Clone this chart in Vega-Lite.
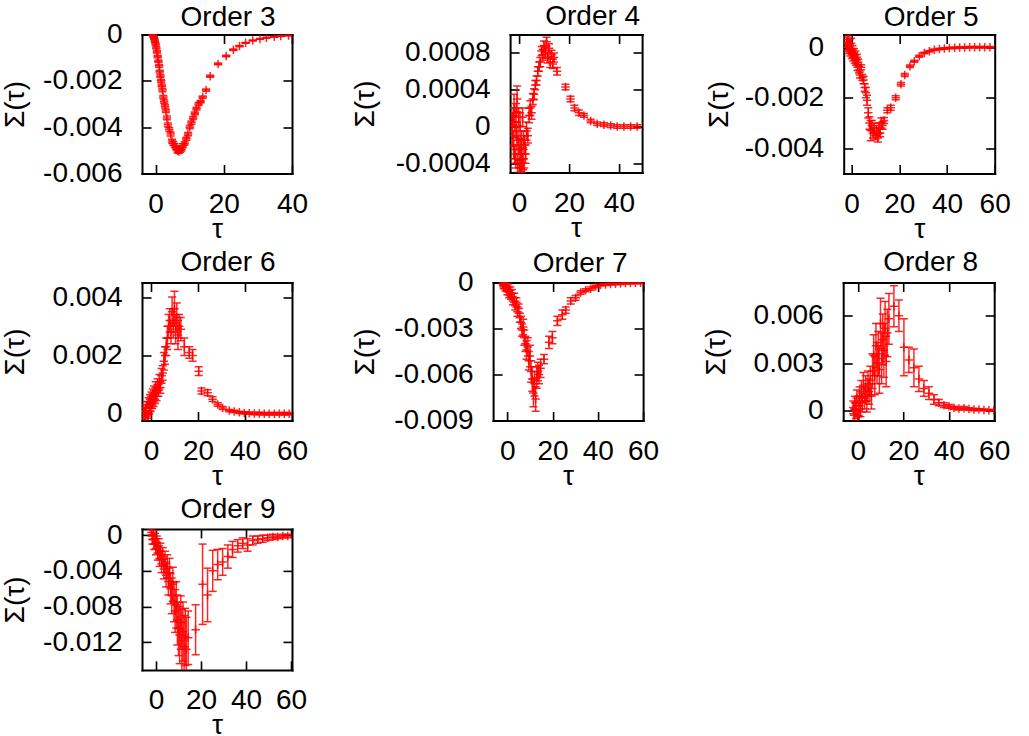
{
  "$schema": "https://vega.github.io/schema/vega-lite/v6.json",
  "background": "white",
  "padding": {"left": 1, "top": 2.5, "right": 5, "bottom": 0},
  "datasets": {
    "o3": [
      {"t": -1.0, "s": 0.00002, "e": 0.00003}, {"t": -0.8, "s": -0.00003, "e": 0.00003}, {"t": -0.6, "s": -0.0001, "e": 0.00004},
      {"t": -0.4, "s": -0.00018, "e": 0.00004}, {"t": -0.2, "s": -0.0003, "e": 0.00004}, {"t": 0.0, "s": -0.00042, "e": 0.00005},
      {"t": 0.2, "s": -0.00058, "e": 0.00005}, {"t": 0.4, "s": -0.00075, "e": 0.00005}, {"t": 0.6, "s": -0.00095, "e": 0.00005},
      {"t": 0.8, "s": -0.00115, "e": 0.00005}, {"t": 1.0, "s": -0.00135, "e": 0.00006}, {"t": 1.2, "s": -0.0016, "e": 0.00006},
      {"t": 1.4, "s": -0.0018, "e": 0.00006}, {"t": 1.6, "s": -0.002, "e": 0.00006}, {"t": 1.8, "s": -0.0022, "e": 0.00006},
      {"t": 2.0, "s": -0.0024, "e": 0.00007}, {"t": 2.25, "s": -0.0027, "e": 0.00007}, {"t": 2.5, "s": -0.0029, "e": 0.00007},
      {"t": 2.75, "s": -0.0031, "e": 0.00007}, {"t": 3.0, "s": -0.0033, "e": 0.00007}, {"t": 3.3, "s": -0.0036, "e": 0.00008},
      {"t": 3.6, "s": -0.0039, "e": 0.00008}, {"t": 4.0, "s": -0.0041, "e": 0.00008}, {"t": 4.4, "s": -0.0043, "e": 0.00008},
      {"t": 4.8, "s": -0.0046, "e": 0.00008}, {"t": 5.2, "s": -0.0047, "e": 0.00008}, {"t": 5.6, "s": -0.0048, "e": 0.00008},
      {"t": 6.0, "s": -0.0049, "e": 0.00008}, {"t": 6.4, "s": -0.00502, "e": 0.00008}, {"t": 6.8, "s": -0.00505, "e": 0.00008},
      {"t": 7.2, "s": -0.005, "e": 0.00008}, {"t": 7.6, "s": -0.00495, "e": 0.00008}, {"t": 8.0, "s": -0.0048, "e": 0.00008},
      {"t": 8.5, "s": -0.0047, "e": 0.00007}, {"t": 9.0, "s": -0.0045, "e": 0.00007}, {"t": 9.5, "s": -0.0043, "e": 0.00007},
      {"t": 10.0, "s": -0.004, "e": 0.00007}, {"t": 10.5, "s": -0.0038, "e": 0.00007}, {"t": 11.0, "s": -0.0036, "e": 0.00006},
      {"t": 11.5, "s": -0.0034, "e": 0.00006}, {"t": 12.0, "s": -0.0032, "e": 0.00006}, {"t": 12.6, "s": -0.003, "e": 0.00006},
      {"t": 13.2, "s": -0.0029, "e": 0.00005}, {"t": 13.8, "s": -0.0027, "e": 0.00005}, {"t": 14.8, "s": -0.0024, "e": 0.00005},
      {"t": 16.0, "s": -0.0018, "e": 0.00004}, {"t": 18.3, "s": -0.00127, "e": 0.00004}, {"t": 20.7, "s": -0.00093, "e": 0.00003},
      {"t": 22.8, "s": -0.00066, "e": 0.00003}, {"t": 24.6, "s": -0.0005, "e": 0.00003}, {"t": 26.4, "s": -0.00036, "e": 0.00002},
      {"t": 28.5, "s": -0.00026, "e": 0.00002}, {"t": 30.6, "s": -0.00019, "e": 0.00002}, {"t": 32.5, "s": -0.00014, "e": 0.00002},
      {"t": 34.8, "s": -0.0001, "e": 0.00002}, {"t": 36.7, "s": -0.00007, "e": 0.00002}, {"t": 39.0, "s": -0.00004, "e": 0.00002}
    ],
    "o4": [
      {"t": -2.8, "s": 0.00005, "e": 0.0001}, {"t": -2.6, "s": -0.0001, "e": 0.00012}, {"t": -2.4, "s": 0.0001, "e": 0.0001},
      {"t": -2.2, "s": -0.0002, "e": 0.00015}, {"t": -2.0, "s": 0.0002, "e": 0.00015}, {"t": -1.8, "s": -0.0003, "e": 0.0001},
      {"t": -1.6, "s": 0.0, "e": 0.00012}, {"t": -1.4, "s": -0.00035, "e": 0.0001}, {"t": -1.2, "s": 0.00015, "e": 0.0001},
      {"t": -1.0, "s": -0.0001, "e": 0.00015}, {"t": -0.8, "s": 0.0003, "e": 0.00014}, {"t": -0.6, "s": -0.0004, "e": 0.0001},
      {"t": -0.4, "s": -0.00015, "e": 0.00015}, {"t": -0.2, "s": 0.0001, "e": 0.0001}, {"t": 0.0, "s": -0.00025, "e": 0.00012},
      {"t": 0.2, "s": -0.00045, "e": 0.0001}, {"t": 0.4, "s": 0.0, "e": 0.00015}, {"t": 0.6, "s": -0.0003, "e": 0.00015},
      {"t": 0.8, "s": -0.0005, "e": 0.0001}, {"t": 1.0, "s": -0.0002, "e": 0.00015}, {"t": 1.2, "s": -0.0004, "e": 0.0001},
      {"t": 1.4, "s": 0.0001, "e": 0.0001}, {"t": 1.6, "s": -0.00035, "e": 0.00012}, {"t": 1.8, "s": -0.00015, "e": 0.0001},
      {"t": 2.0, "s": -0.00045, "e": 0.0001}, {"t": 2.3, "s": -0.0002, "e": 0.0001}, {"t": 2.6, "s": -0.0003, "e": 0.0001},
      {"t": 3.0, "s": -0.00005, "e": 0.0001}, {"t": 3.5, "s": -0.0001, "e": 0.00008}, {"t": 4.0, "s": 0.00012, "e": 0.00008},
      {"t": 4.5, "s": 0.0002, "e": 0.00008}, {"t": 5.0, "s": 0.00015, "e": 0.00007}, {"t": 5.5, "s": 0.0003, "e": 0.00006},
      {"t": 6.0, "s": 0.00035, "e": 0.00006}, {"t": 6.5, "s": 0.00045, "e": 0.00005}, {"t": 7.0, "s": 0.0005, "e": 0.00005},
      {"t": 7.5, "s": 0.0006, "e": 0.00005}, {"t": 8.0, "s": 0.00065, "e": 0.00005}, {"t": 8.5, "s": 0.0007, "e": 0.00005},
      {"t": 9.0, "s": 0.00082, "e": 0.00005}, {"t": 9.5, "s": 0.00078, "e": 0.00006}, {"t": 10.0, "s": 0.00088, "e": 0.00005},
      {"t": 10.5, "s": 0.0008, "e": 0.00006}, {"t": 11.0, "s": 0.00092, "e": 0.00005}, {"t": 11.5, "s": 0.00075, "e": 0.00006},
      {"t": 12.0, "s": 0.00085, "e": 0.00005}, {"t": 12.5, "s": 0.0007, "e": 0.00006}, {"t": 13.0, "s": 0.00078, "e": 0.00005},
      {"t": 13.5, "s": 0.00068, "e": 0.00005}, {"t": 14.0, "s": 0.00075, "e": 0.00005}, {"t": 15.2, "s": 0.0006, "e": 0.00004},
      {"t": 18.6, "s": 0.00043, "e": 0.00003}, {"t": 20.6, "s": 0.0003, "e": 0.00003}, {"t": 22.2, "s": 0.0002, "e": 0.00003},
      {"t": 24.0, "s": 0.00015, "e": 0.00003}, {"t": 26.0, "s": 0.00012, "e": 0.00002}, {"t": 28.7, "s": 0.00006, "e": 0.00002},
      {"t": 31.3, "s": 0.00003, "e": 0.00002}, {"t": 34.0, "s": 0.00002, "e": 0.00002}, {"t": 36.7, "s": 0.00001, "e": 0.00002},
      {"t": 39.3, "s": 0.0, "e": 0.00002}, {"t": 42.0, "s": 0.0, "e": 0.00002}, {"t": 44.7, "s": 0.0, "e": 0.00002},
      {"t": 47.3, "s": 0.0, "e": 0.00002}
    ],
    "o5": [
      {"t": -2.0, "s": 0.0002, "e": 0.0002}, {"t": -1.7, "s": 0.0, "e": 0.00015}, {"t": -1.4, "s": 0.0003, "e": 0.0002},
      {"t": -1.1, "s": -0.0001, "e": 0.00015}, {"t": -0.8, "s": 0.0001, "e": 0.0002}, {"t": -0.5, "s": -0.0002, "e": 0.00015},
      {"t": -0.2, "s": 0.00015, "e": 0.0002}, {"t": 0.1, "s": -0.0003, "e": 0.00015}, {"t": 0.4, "s": -0.0001, "e": 0.00015},
      {"t": 0.7, "s": -0.0004, "e": 0.00015}, {"t": 1.0, "s": -0.0002, "e": 0.00015}, {"t": 1.3, "s": -0.0005, "e": 0.00015},
      {"t": 1.6, "s": -0.0003, "e": 0.00015}, {"t": 1.9, "s": -0.0006, "e": 0.00012}, {"t": 2.2, "s": -0.0004, "e": 0.00012},
      {"t": 2.5, "s": -0.0008, "e": 0.00012}, {"t": 2.8, "s": -0.0006, "e": 0.00012}, {"t": 3.1, "s": -0.0009, "e": 0.00012},
      {"t": 3.5, "s": -0.0011, "e": 0.00012}, {"t": 4.0, "s": -0.0008, "e": 0.0001}, {"t": 4.5, "s": -0.0012, "e": 0.00012},
      {"t": 5.0, "s": -0.0013, "e": 0.00015}, {"t": 5.5, "s": -0.0016, "e": 0.00015}, {"t": 6.0, "s": -0.0018, "e": 0.0002},
      {"t": 6.5, "s": -0.0021, "e": 0.0002}, {"t": 7.0, "s": -0.0026, "e": 0.0002}, {"t": 7.5, "s": -0.003, "e": 0.00025},
      {"t": 8.0, "s": -0.0033, "e": 0.0004}, {"t": 8.5, "s": -0.0031, "e": 0.0002}, {"t": 9.0, "s": -0.0034, "e": 0.0002},
      {"t": 9.5, "s": -0.0032, "e": 0.0002}, {"t": 10.0, "s": -0.0035, "e": 0.00015}, {"t": 10.5, "s": -0.0033, "e": 0.0002},
      {"t": 11.0, "s": -0.0036, "e": 0.00015}, {"t": 11.5, "s": -0.0032, "e": 0.0002}, {"t": 12.0, "s": -0.0034, "e": 0.00015},
      {"t": 12.5, "s": -0.003, "e": 0.0002}, {"t": 13.0, "s": -0.0031, "e": 0.00015}, {"t": 13.6, "s": -0.0029, "e": 0.00012},
      {"t": 15.0, "s": -0.0025, "e": 0.0001}, {"t": 16.4, "s": -0.0024, "e": 0.0001}, {"t": 18.5, "s": -0.002, "e": 0.00008},
      {"t": 20.7, "s": -0.00147, "e": 0.00007}, {"t": 22.3, "s": -0.0011, "e": 0.00006}, {"t": 24.5, "s": -0.00076, "e": 0.00005},
      {"t": 26.3, "s": -0.00056, "e": 0.00004}, {"t": 28.4, "s": -0.00036, "e": 0.00004}, {"t": 30.5, "s": -0.00023, "e": 0.00003},
      {"t": 32.6, "s": -0.00016, "e": 0.00003}, {"t": 34.7, "s": -0.0001, "e": 0.00003}, {"t": 36.8, "s": -0.00007, "e": 0.00003},
      {"t": 38.9, "s": -0.00005, "e": 0.00003}, {"t": 41.0, "s": -0.00003, "e": 0.00003}, {"t": 43.2, "s": -0.00002, "e": 0.00003},
      {"t": 45.3, "s": -0.00001, "e": 0.00003}, {"t": 47.4, "s": -0.00001, "e": 0.00003}, {"t": 49.5, "s": 0.0, "e": 0.00003},
      {"t": 51.6, "s": 0.0, "e": 0.00003}, {"t": 53.7, "s": 0.0, "e": 0.00003}, {"t": 55.8, "s": 0.0, "e": 0.00003},
      {"t": 58.0, "s": 0.0, "e": 0.00003}
    ],
    "o6": [
      {"t": -2.8, "s": 0.0001, "e": 0.0001}, {"t": -2.5, "s": -0.0001, "e": 0.0001}, {"t": -2.2, "s": 0.0002, "e": 0.00012},
      {"t": -1.9, "s": 0.0, "e": 0.0001}, {"t": -1.6, "s": 0.0003, "e": 0.00012}, {"t": -1.3, "s": -0.00005, "e": 0.0001},
      {"t": -1.0, "s": 0.0004, "e": 0.00015}, {"t": -0.7, "s": 0.0001, "e": 0.0001}, {"t": -0.4, "s": 0.0005, "e": 0.00015},
      {"t": -0.1, "s": 0.0002, "e": 0.00012}, {"t": 0.2, "s": 0.0006, "e": 0.00015}, {"t": 0.5, "s": 0.0003, "e": 0.00012},
      {"t": 0.8, "s": 0.0007, "e": 0.00015}, {"t": 1.1, "s": 0.0004, "e": 0.00015}, {"t": 1.4, "s": 0.0008, "e": 0.00015},
      {"t": 1.7, "s": 0.0005, "e": 0.00015}, {"t": 2.0, "s": 0.0009, "e": 0.0002}, {"t": 2.4, "s": 0.0006, "e": 0.00015},
      {"t": 2.8, "s": 0.001, "e": 0.0002}, {"t": 3.2, "s": 0.0008, "e": 0.0002}, {"t": 3.6, "s": 0.0011, "e": 0.00025},
      {"t": 4.0, "s": 0.0009, "e": 0.0002}, {"t": 4.5, "s": 0.0013, "e": 0.00025}, {"t": 5.0, "s": 0.0014, "e": 0.00025},
      {"t": 5.5, "s": 0.0018, "e": 0.0003}, {"t": 6.0, "s": 0.002, "e": 0.0003}, {"t": 6.5, "s": 0.0023, "e": 0.0003},
      {"t": 7.0, "s": 0.0026, "e": 0.0004}, {"t": 7.5, "s": 0.003, "e": 0.0004}, {"t": 8.0, "s": 0.0032, "e": 0.0004},
      {"t": 8.5, "s": 0.0028, "e": 0.0004}, {"t": 9.0, "s": 0.0035, "e": 0.0005}, {"t": 9.5, "s": 0.0031, "e": 0.0005},
      {"t": 10.0, "s": 0.0036, "e": 0.0006}, {"t": 10.5, "s": 0.0029, "e": 0.0005}, {"t": 11.0, "s": 0.0033, "e": 0.0005},
      {"t": 11.5, "s": 0.0027, "e": 0.0005}, {"t": 12.0, "s": 0.003, "e": 0.0004}, {"t": 12.7, "s": 0.0029, "e": 0.0004},
      {"t": 14.2, "s": 0.0023, "e": 0.0003}, {"t": 16.3, "s": 0.0021, "e": 0.0002}, {"t": 17.7, "s": 0.002, "e": 0.0002},
      {"t": 20.3, "s": 0.00146, "e": 0.00015}, {"t": 21.5, "s": 0.00078, "e": 0.0001}, {"t": 24.1, "s": 0.00072, "e": 0.0001},
      {"t": 26.2, "s": 0.0005, "e": 0.00008}, {"t": 28.4, "s": 0.00032, "e": 0.00006}, {"t": 30.5, "s": 0.0002, "e": 0.00005},
      {"t": 33.3, "s": 0.00011, "e": 0.00004}, {"t": 35.4, "s": 0.00008, "e": 0.00004}, {"t": 37.6, "s": 0.00005, "e": 0.00004},
      {"t": 39.7, "s": 0.00003, "e": 0.00004}, {"t": 41.8, "s": 0.00002, "e": 0.00004}, {"t": 44.0, "s": 0.00001, "e": 0.00004},
      {"t": 46.1, "s": 0.00001, "e": 0.00004}, {"t": 48.2, "s": 0.0, "e": 0.00004}, {"t": 50.3, "s": 0.0, "e": 0.00004},
      {"t": 52.5, "s": 0.0, "e": 0.00004}, {"t": 54.6, "s": 0.0, "e": 0.00004}, {"t": 56.7, "s": 0.0, "e": 0.00004},
      {"t": 58.8, "s": 0.0, "e": 0.00004}
    ],
    "o7": [
      {"t": -2.0, "s": -0.0001, "e": 0.0001}, {"t": -1.6, "s": -0.0003, "e": 0.0001}, {"t": -1.2, "s": 0.0, "e": 0.0001},
      {"t": -0.8, "s": -0.0004, "e": 0.00015}, {"t": -0.4, "s": -0.0002, "e": 0.00015}, {"t": 0.0, "s": -0.0006, "e": 0.0002},
      {"t": 0.4, "s": -0.0003, "e": 0.0002}, {"t": 0.8, "s": -0.0008, "e": 0.0002}, {"t": 1.2, "s": -0.0005, "e": 0.0002},
      {"t": 1.6, "s": -0.0009, "e": 0.0002}, {"t": 2.0, "s": -0.0007, "e": 0.00025}, {"t": 2.5, "s": -0.0012, "e": 0.00025},
      {"t": 3.0, "s": -0.001, "e": 0.0003}, {"t": 3.5, "s": -0.0015, "e": 0.0003}, {"t": 4.0, "s": -0.0013, "e": 0.0003},
      {"t": 4.5, "s": -0.0019, "e": 0.0003}, {"t": 5.0, "s": -0.0017, "e": 0.0003}, {"t": 5.5, "s": -0.0023, "e": 0.0003},
      {"t": 6.0, "s": -0.0026, "e": 0.0004}, {"t": 6.5, "s": -0.0031, "e": 0.0004}, {"t": 7.0, "s": -0.0029, "e": 0.0005},
      {"t": 7.5, "s": -0.0036, "e": 0.0005}, {"t": 8.0, "s": -0.004, "e": 0.0005}, {"t": 8.5, "s": -0.0044, "e": 0.0006},
      {"t": 9.0, "s": -0.0042, "e": 0.0006}, {"t": 9.5, "s": -0.0051, "e": 0.0006}, {"t": 10.0, "s": -0.0048, "e": 0.0007},
      {"t": 10.5, "s": -0.0058, "e": 0.0007}, {"t": 11.0, "s": -0.0063, "e": 0.0008}, {"t": 11.5, "s": -0.0072, "e": 0.0009},
      {"t": 12.0, "s": -0.0066, "e": 0.0008}, {"t": 12.5, "s": -0.0076, "e": 0.0008}, {"t": 13.0, "s": -0.0062, "e": 0.0007},
      {"t": 13.5, "s": -0.0058, "e": 0.0006}, {"t": 14.0, "s": -0.006, "e": 0.0006}, {"t": 14.7, "s": -0.0056, "e": 0.0006},
      {"t": 16.2, "s": -0.005, "e": 0.0003}, {"t": 18.4, "s": -0.0039, "e": 0.0004}, {"t": 19.9, "s": -0.0036, "e": 0.0004},
      {"t": 22.1, "s": -0.0025, "e": 0.0003}, {"t": 24.3, "s": -0.0021, "e": 0.0003}, {"t": 25.8, "s": -0.0018, "e": 0.0002},
      {"t": 28.0, "s": -0.0012, "e": 0.0002}, {"t": 30.2, "s": -0.001, "e": 0.00015}, {"t": 32.4, "s": -0.00065, "e": 0.00012},
      {"t": 34.6, "s": -0.0005, "e": 0.0001}, {"t": 36.8, "s": -0.0004, "e": 0.0001}, {"t": 39.0, "s": -0.00026, "e": 0.00008},
      {"t": 41.2, "s": -0.00017, "e": 0.00006}, {"t": 43.4, "s": -0.00013, "e": 0.00006}, {"t": 45.6, "s": -0.0001, "e": 0.00006},
      {"t": 47.8, "s": -0.00009, "e": 0.00006}, {"t": 50.0, "s": -0.00007, "e": 0.00006}, {"t": 52.2, "s": -0.00004, "e": 0.00006},
      {"t": 54.4, "s": -0.00004, "e": 0.00006}, {"t": 56.6, "s": -0.00002, "e": 0.00006}, {"t": 58.9, "s": -0.00002, "e": 0.00006}
    ],
    "o8": [
      {"t": -2.0, "s": 0.0002, "e": 0.0004}, {"t": -1.6, "s": -0.0003, "e": 0.0004}, {"t": -1.2, "s": 0.0005, "e": 0.0004},
      {"t": -0.8, "s": 0.0, "e": 0.0005}, {"t": -0.4, "s": 0.0008, "e": 0.0005}, {"t": 0.0, "s": -0.0004, "e": 0.0004},
      {"t": 0.4, "s": 0.0003, "e": 0.0006}, {"t": 0.8, "s": 0.0009, "e": 0.0006}, {"t": 1.2, "s": 0.0001, "e": 0.0005},
      {"t": 1.6, "s": 0.0012, "e": 0.0007}, {"t": 2.0, "s": 0.0005, "e": 0.0006}, {"t": 2.5, "s": 0.0016, "e": 0.0008},
      {"t": 3.0, "s": 0.0008, "e": 0.0007}, {"t": 3.5, "s": 0.0014, "e": 0.0008}, {"t": 4.0, "s": 0.0006, "e": 0.0007},
      {"t": 4.5, "s": 0.0017, "e": 0.0008}, {"t": 5.0, "s": 0.0012, "e": 0.0008}, {"t": 5.5, "s": 0.0019, "e": 0.0009},
      {"t": 6.0, "s": 0.0009, "e": 0.0008}, {"t": 6.5, "s": 0.0025, "e": 0.0011}, {"t": 7.0, "s": 0.0035, "e": 0.0013},
      {"t": 7.5, "s": 0.0022, "e": 0.0012}, {"t": 8.0, "s": 0.0041, "e": 0.0014}, {"t": 8.5, "s": 0.003, "e": 0.0013},
      {"t": 9.0, "s": 0.0036, "e": 0.0014}, {"t": 9.5, "s": 0.0026, "e": 0.0015}, {"t": 10.0, "s": 0.0055, "e": 0.0016},
      {"t": 10.5, "s": 0.0033, "e": 0.0016}, {"t": 11.0, "s": 0.0045, "e": 0.0016}, {"t": 11.5, "s": 0.0038, "e": 0.0017},
      {"t": 12.0, "s": 0.0052, "e": 0.0017}, {"t": 12.5, "s": 0.0031, "e": 0.0016}, {"t": 13.0, "s": 0.0049, "e": 0.0015},
      {"t": 13.7, "s": 0.0058, "e": 0.0016}, {"t": 15.9, "s": 0.0066, "e": 0.0013}, {"t": 18.1, "s": 0.006, "e": 0.001},
      {"t": 20.3, "s": 0.004, "e": 0.0018}, {"t": 22.5, "s": 0.0032, "e": 0.0008}, {"t": 24.7, "s": 0.0027, "e": 0.0012},
      {"t": 26.9, "s": 0.002, "e": 0.0008}, {"t": 29.1, "s": 0.0014, "e": 0.0005}, {"t": 31.3, "s": 0.0011, "e": 0.0004},
      {"t": 33.5, "s": 0.0007, "e": 0.0003}, {"t": 35.7, "s": 0.0005, "e": 0.0002}, {"t": 37.9, "s": 0.00034, "e": 0.00015},
      {"t": 40.1, "s": 0.00027, "e": 0.00012}, {"t": 42.3, "s": 0.00017, "e": 0.0001}, {"t": 44.5, "s": 0.00013, "e": 0.0001},
      {"t": 46.7, "s": 0.00015, "e": 0.0001}, {"t": 48.9, "s": 0.0001, "e": 0.00008}, {"t": 51.1, "s": 0.00006, "e": 0.00008},
      {"t": 53.3, "s": 0.00006, "e": 0.00006}, {"t": 55.5, "s": 0.00004, "e": 0.00006}, {"t": 57.7, "s": 0.00002, "e": 0.00005},
      {"t": 59.9, "s": 0.00002, "e": 0.00005}
    ],
    "o9": [
      {"t": -2.0, "s": 0.0003, "e": 0.0004}, {"t": -1.6, "s": -0.0005, "e": 0.0005}, {"t": -1.2, "s": 0.0, "e": 0.0005},
      {"t": -0.8, "s": -0.001, "e": 0.0006}, {"t": -0.4, "s": -0.0004, "e": 0.0006}, {"t": 0.0, "s": -0.0015, "e": 0.0007},
      {"t": 0.4, "s": -0.0008, "e": 0.0007}, {"t": 0.8, "s": -0.002, "e": 0.0008}, {"t": 1.2, "s": -0.0012, "e": 0.0008},
      {"t": 1.6, "s": -0.0026, "e": 0.0009}, {"t": 2.0, "s": -0.0018, "e": 0.0009}, {"t": 2.5, "s": -0.0032, "e": 0.001},
      {"t": 3.0, "s": -0.0024, "e": 0.001}, {"t": 3.5, "s": -0.0038, "e": 0.0011}, {"t": 4.0, "s": -0.003, "e": 0.0012},
      {"t": 4.5, "s": -0.0045, "e": 0.0013}, {"t": 5.0, "s": -0.0035, "e": 0.0013}, {"t": 5.5, "s": -0.0052, "e": 0.0015},
      {"t": 6.0, "s": -0.0042, "e": 0.0016}, {"t": 6.5, "s": -0.006, "e": 0.0017}, {"t": 7.0, "s": -0.0068, "e": 0.002},
      {"t": 7.5, "s": -0.0055, "e": 0.0019}, {"t": 8.0, "s": -0.0075, "e": 0.0022}, {"t": 8.5, "s": -0.0085, "e": 0.0024},
      {"t": 9.0, "s": -0.0078, "e": 0.0026}, {"t": 9.5, "s": -0.0095, "e": 0.0028}, {"t": 10.0, "s": -0.0105, "e": 0.003},
      {"t": 10.5, "s": -0.0112, "e": 0.0032}, {"t": 11.0, "s": -0.0098, "e": 0.003}, {"t": 11.5, "s": -0.0118, "e": 0.0035},
      {"t": 12.0, "s": -0.0108, "e": 0.0033}, {"t": 12.5, "s": -0.0125, "e": 0.0035}, {"t": 13.0, "s": -0.0114, "e": 0.0032},
      {"t": 13.5, "s": -0.0128, "e": 0.0036}, {"t": 14.3, "s": -0.0115, "e": 0.003}, {"t": 17.6, "s": -0.0106, "e": 0.0028},
      {"t": 20.7, "s": -0.0055, "e": 0.0045}, {"t": 22.9, "s": -0.0067, "e": 0.003}, {"t": 25.2, "s": -0.004, "e": 0.0023},
      {"t": 27.4, "s": -0.0033, "e": 0.0017}, {"t": 29.6, "s": -0.003, "e": 0.0015}, {"t": 31.9, "s": -0.0024, "e": 0.0013},
      {"t": 34.0, "s": -0.0016, "e": 0.0009}, {"t": 36.3, "s": -0.0012, "e": 0.0007}, {"t": 38.5, "s": -0.0009, "e": 0.0006},
      {"t": 40.7, "s": -0.0011, "e": 0.0007}, {"t": 43.0, "s": -0.0006, "e": 0.0005}, {"t": 45.2, "s": -0.0005, "e": 0.0004},
      {"t": 47.4, "s": -0.0004, "e": 0.0004}, {"t": 49.6, "s": -0.0003, "e": 0.0003}, {"t": 51.9, "s": -0.0002, "e": 0.0003},
      {"t": 54.1, "s": -0.0002, "e": 0.0002}, {"t": 56.3, "s": -0.0001, "e": 0.0002}, {"t": 58.5, "s": -0.0001, "e": 0.0002}
    ]
  },
  "vconcat": [
    {
      "vconcat": [
        {
          "hconcat": [
            {
              "width": 150, "height": 139,
              "title": {"text": "Order 3", "dx": 11, "offset": -11.5},
              "data": {"name": "o3"},
              "layer": [
                {
                  "mark": {"type": "errorbar", "ticks": {"size": 8}, "thickness": 1.5, "color": "#ff0000", "opacity": 0.85, "clip": true},
                  "encoding": {
                    "x": {"field": "t", "type": "quantitative", "scale": {"domain": [-4, 40], "nice": false, "zero": false}, "axis": {"orient": "bottom", "values": [0, 20, 40], "title": "τ"}},
                    "y": {"field": "s", "type": "quantitative", "scale": {"domain": [-0.006, 0], "nice": false, "zero": false}, "axis": {"orient": "left", "values": [-0.006, -0.004, -0.002, 0], "title": "Σ(τ)", "titleX": -127, "labelExpr": "replace(format(datum.value, '~g'), '\u2212', '-')"}},
                    "yError": {"field": "e"}
                  }
                },
                {
                  "mark": {"type": "point", "shape": "M-1,0H1M0,-1V1", "size": 72, "filled": false, "strokeWidth": 1.5, "color": "#ff0000", "opacity": 0.85, "clip": true},
                  "encoding": {
                    "x": {"field": "t", "type": "quantitative", "axis": {"orient": "top", "values": [0, 20, 40], "labels": false, "title": null}},
                    "y": {"field": "s", "type": "quantitative", "axis": {"orient": "right", "values": [-0.006, -0.004, -0.002, 0], "labels": false, "title": null}}
                  }
                }
              ],
              "resolve": {"axis": {"x": "independent", "y": "independent"}}
            },
            {
              "hconcat": [
                {
                  "width": 132, "height": 138,
                  "title": {"text": "Order 4", "dx": 16.6, "offset": 2.5},
                  "data": {"name": "o4"},
                  "layer": [
                    {
                      "mark": {"type": "errorbar", "ticks": {"size": 8}, "thickness": 1.5, "color": "#ff0000", "opacity": 0.85, "clip": true},
                      "encoding": {
                        "x": {"field": "t", "type": "quantitative", "scale": {"domain": [-3.6, 49.3], "nice": false, "zero": false}, "axis": {"orient": "bottom", "values": [0, 20, 40], "title": "τ"}},
                        "y": {"field": "s", "type": "quantitative", "scale": {"domain": [-0.0005, 0.001], "nice": false, "zero": false}, "axis": {"orient": "left", "values": [-0.0004, 0, 0.0004, 0.0008], "title": "Σ(τ)", "titleX": -145, "labelExpr": "replace(format(datum.value, '~g'), '\u2212', '-')"}},
                        "yError": {"field": "e"}
                      }
                    },
                    {
                      "mark": {"type": "point", "shape": "M-1,0H1M0,-1V1", "size": 72, "filled": false, "strokeWidth": 1.5, "color": "#ff0000", "opacity": 0.85, "clip": true},
                      "encoding": {
                        "x": {"field": "t", "type": "quantitative", "axis": {"orient": "top", "values": [0, 20, 40], "labels": false, "title": null}},
                        "y": {"field": "s", "type": "quantitative", "axis": {"orient": "right", "values": [-0.0004, 0, 0.0004, 0.0008], "labels": false, "title": null}}
                      }
                    }
                  ],
                  "resolve": {"axis": {"x": "independent", "y": "independent"}}
                },
                {
                  "width": 151, "height": 139,
                  "title": {"text": "Order 5", "dx": 12, "offset": 1.1},
                  "data": {"name": "o5"},
                  "layer": [
                    {
                      "mark": {"type": "errorbar", "ticks": {"size": 8}, "thickness": 1.5, "color": "#ff0000", "opacity": 0.85, "clip": true},
                      "encoding": {
                        "x": {"field": "t", "type": "quantitative", "scale": {"domain": [-3.3, 60], "nice": false, "zero": false}, "axis": {"orient": "bottom", "values": [0, 20, 40, 60], "title": "τ"}},
                        "y": {"field": "s", "type": "quantitative", "scale": {"domain": [-0.005, 0.0005], "nice": false, "zero": false}, "axis": {"orient": "left", "values": [-0.004, -0.002, 0], "title": "Σ(τ)", "titleX": -124, "labelExpr": "replace(format(datum.value, '~g'), '\u2212', '-')"}},
                        "yError": {"field": "e"}
                      }
                    },
                    {
                      "mark": {"type": "point", "shape": "M-1,0H1M0,-1V1", "size": 72, "filled": false, "strokeWidth": 1.5, "color": "#ff0000", "opacity": 0.85, "clip": true},
                      "encoding": {
                        "x": {"field": "t", "type": "quantitative", "axis": {"orient": "top", "values": [0, 20, 40, 60], "labels": false, "title": null}},
                        "y": {"field": "s", "type": "quantitative", "axis": {"orient": "right", "values": [-0.004, -0.002, 0], "labels": false, "title": null}}
                      }
                    }
                  ],
                  "resolve": {"axis": {"x": "independent", "y": "independent"}}
                }
              ],
              "spacing": 62.6
            }
          ],
          "spacing": 43.1
        },
        {
          "hconcat": [
            {
              "width": 150, "height": 138,
              "title": {"text": "Order 6", "dx": 11, "offset": 5},
              "data": {"name": "o6"},
              "layer": [
                {
                  "mark": {"type": "errorbar", "ticks": {"size": 8}, "thickness": 1.5, "color": "#ff0000", "opacity": 0.85, "clip": true},
                  "encoding": {
                    "x": {"field": "t", "type": "quantitative", "scale": {"domain": [-3.8, 60], "nice": false, "zero": false}, "axis": {"orient": "bottom", "values": [0, 20, 40, 60], "title": "τ"}},
                    "y": {"field": "s", "type": "quantitative", "scale": {"domain": [-0.00023, 0.0045], "nice": false, "zero": false}, "axis": {"orient": "left", "values": [0, 0.002, 0.004], "title": "Σ(τ)", "titleX": -127, "labelExpr": "replace(format(datum.value, '~g'), '\u2212', '-')"}},
                    "yError": {"field": "e"}
                  }
                },
                {
                  "mark": {"type": "point", "shape": "M-1,0H1M0,-1V1", "size": 72, "filled": false, "strokeWidth": 1.5, "color": "#ff0000", "opacity": 0.85, "clip": true},
                  "encoding": {
                    "x": {"field": "t", "type": "quantitative", "axis": {"orient": "top", "values": [0, 20, 40, 60], "labels": false, "title": null}},
                    "y": {"field": "s", "type": "quantitative", "axis": {"orient": "right", "values": [0, 0.002, 0.004], "labels": false, "title": null}}
                  }
                }
              ],
              "resolve": {"axis": {"x": "independent", "y": "independent"}}
            },
            {
              "width": 150, "height": 138,
              "title": {"text": "Order 7", "dx": 12, "offset": -9},
              "data": {"name": "o7"},
              "layer": [
                {
                  "mark": {"type": "errorbar", "ticks": {"size": 8}, "thickness": 1.5, "color": "#ff0000", "opacity": 0.85, "clip": true},
                  "encoding": {
                    "x": {"field": "t", "type": "quantitative", "scale": {"domain": [-6.3, 60], "nice": false, "zero": false}, "axis": {"orient": "bottom", "values": [0, 20, 40, 60], "title": "τ"}},
                    "y": {"field": "s", "type": "quantitative", "scale": {"domain": [-0.009, 0], "nice": false, "zero": false}, "axis": {"orient": "left", "values": [-0.009, -0.006, -0.003, 0], "title": "Σ(τ)", "titleX": -128, "labelExpr": "replace(format(datum.value, '~g'), '\u2212', '-')"}},
                    "yError": {"field": "e"}
                  }
                },
                {
                  "mark": {"type": "point", "shape": "M-1,0H1M0,-1V1", "size": 72, "filled": false, "strokeWidth": 1.5, "color": "#ff0000", "opacity": 0.85, "clip": true},
                  "encoding": {
                    "x": {"field": "t", "type": "quantitative", "axis": {"orient": "top", "values": [0, 20, 40, 60], "labels": false, "title": null}},
                    "y": {"field": "s", "type": "quantitative", "axis": {"orient": "right", "values": [-0.009, -0.006, -0.003, 0], "labels": false, "title": null}}
                  }
                }
              ],
              "resolve": {"axis": {"x": "independent", "y": "independent"}}
            },
            {
              "width": 151, "height": 138,
              "title": {"text": "Order 8", "dx": 12, "offset": 5},
              "data": {"name": "o8"},
              "layer": [
                {
                  "mark": {"type": "errorbar", "ticks": {"size": 8}, "thickness": 1.5, "color": "#ff0000", "opacity": 0.85, "clip": true},
                  "encoding": {
                    "x": {"field": "t", "type": "quantitative", "scale": {"domain": [-6.4, 60], "nice": false, "zero": false}, "axis": {"orient": "bottom", "values": [0, 20, 40, 60], "title": "τ"}},
                    "y": {"field": "s", "type": "quantitative", "scale": {"domain": [-0.00063, 0.0081], "nice": false, "zero": false}, "axis": {"orient": "left", "values": [0, 0.003, 0.006], "title": "Σ(τ)", "titleX": -127, "labelExpr": "replace(format(datum.value, '~g'), '\u2212', '-')"}},
                    "yError": {"field": "e"}
                  }
                },
                {
                  "mark": {"type": "point", "shape": "M-1,0H1M0,-1V1", "size": 72, "filled": false, "strokeWidth": 1.5, "color": "#ff0000", "opacity": 0.85, "clip": true},
                  "encoding": {
                    "x": {"field": "t", "type": "quantitative", "axis": {"orient": "top", "values": [0, 20, 40, 60], "labels": false, "title": null}},
                    "y": {"field": "s", "type": "quantitative", "axis": {"orient": "right", "values": [0, 0.003, 0.006], "labels": false, "title": null}}
                  }
                }
              ],
              "resolve": {"axis": {"x": "independent", "y": "independent"}}
            }
          ],
          "spacing": 43.1
        }
      ],
      "spacing": 5
    },
    {
      "width": 150, "height": 141,
      "title": {"text": "Order 9", "dx": 11, "offset": -2.5},
      "data": {"name": "o9"},
      "layer": [
        {
          "mark": {"type": "errorbar", "ticks": {"size": 8}, "thickness": 1.5, "color": "#ff0000", "opacity": 0.85, "clip": true},
          "encoding": {
            "x": {"field": "t", "type": "quantitative", "scale": {"domain": [-6.2, 60.4], "nice": false, "zero": false}, "axis": {"orient": "bottom", "values": [0, 20, 40, 60], "title": "τ"}},
            "y": {"field": "s", "type": "quantitative", "scale": {"domain": [-0.0151, 0.0007], "nice": false, "zero": false}, "axis": {"orient": "left", "values": [-0.012, -0.008, -0.004, 0], "title": "Σ(τ)", "titleX": -127, "labelExpr": "replace(format(datum.value, '~g'), '\u2212', '-')"}},
            "yError": {"field": "e"}
          }
        },
        {
          "mark": {"type": "point", "shape": "M-1,0H1M0,-1V1", "size": 72, "filled": false, "strokeWidth": 1.5, "color": "#ff0000", "opacity": 0.85, "clip": true},
          "encoding": {
            "x": {"field": "t", "type": "quantitative", "axis": {"orient": "top", "values": [0, 20, 40, 60], "labels": false, "title": null}},
            "y": {"field": "s", "type": "quantitative", "axis": {"orient": "right", "values": [-0.012, -0.008, -0.004, 0], "labels": false, "title": null}}
          }
        }
      ],
      "resolve": {"axis": {"x": "independent", "y": "independent"}}
    }
  ],
  "spacing": 4.4,
  "config": {
    "font": "Liberation Sans",
    "view": {"stroke": null},
    "axis": {
      "labelFont": "Liberation Sans", "labelFontSize": 28, "labelColor": "#000000",
      "titleFont": "Liberation Sans", "titleFontSize": 28, "titleFontWeight": "normal", "titleColor": "#000000",
      "domainColor": "#000000", "domainWidth": 2, "domainCap": "square",
      "tickColor": "#000000", "tickWidth": 1.6, "tickSize": -9,
      "grid": false, "labelFlush": false, "labelOverlap": false
    },
    "axisX": {"labelBaseline": "alphabetic", "labelPadding": 48, "titleBaseline": "alphabetic", "titleY": 64, "titleAlign": "center"},
    "axisY": {"labelPadding": 29, "titleAngle": 270, "titleBaseline": "middle", "titleAlign": "center"},
    "title": {"font": "Liberation Sans", "fontSize": 28, "fontWeight": "normal", "color": "#000000", "frame": "group", "anchor": "middle", "baseline": "alphabetic"}
  }
}
